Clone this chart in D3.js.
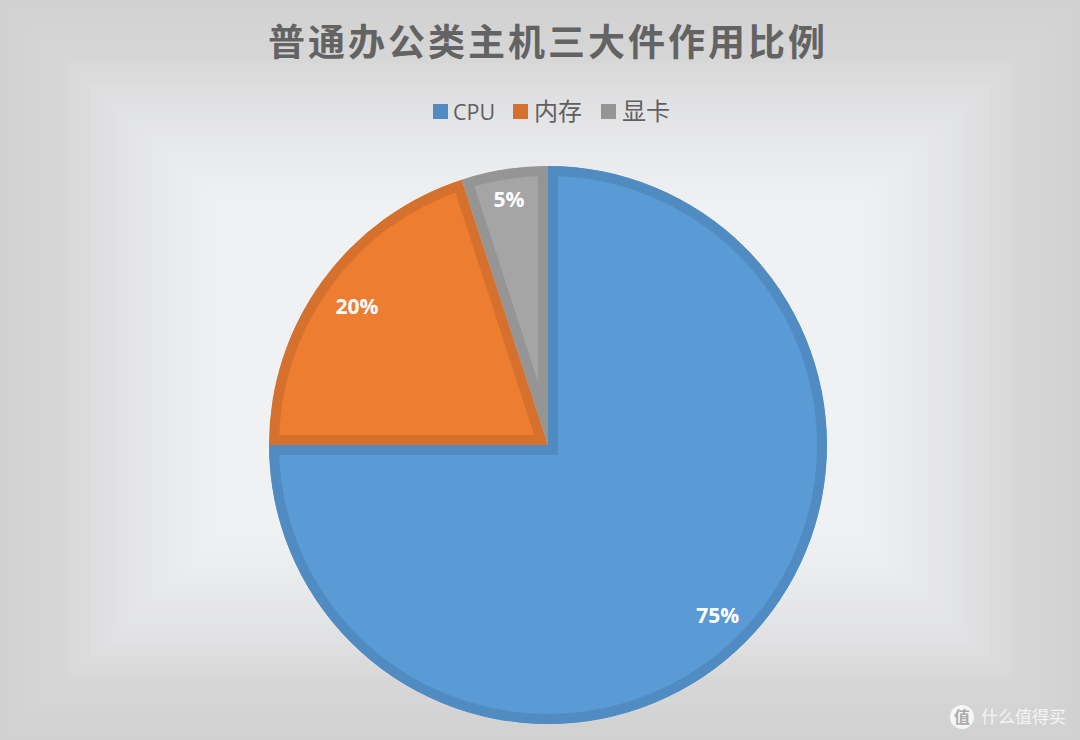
<!DOCTYPE html>
<html><head><meta charset="utf-8">
<script src="https://cdn.jsdelivr.net/npm/d3@7/dist/d3.min.js"></script>
<style>html,body{margin:0;padding:0;background:#fff}svg{display:block}</style></head>
<body><svg id="c" width="1080" height="740"></svg>
<script>
const categories = ["CPU","内存","显卡"];
const values = [75,20,5];
const labels = ["75%","20%","5%"];
const fills = ["#5b9bd5","#ed7d31","#a5a5a5"];
const borders = ["#508cc1","#d5712c","#959595"];
const legendSwatch = ["#508cc1","#d5712c","#959595"];
const titleText = "普通办公类主机三大件作用比例";
const markText = "什么值得买";
const W=1080,H=740,cx=548,cy=445,R=279,bw=10;
const cjk='"Noto Sans CJK SC","Noto Sans",sans-serif';
const svg=d3.select("#c");
const defs=svg.append("defs");
const col=d3.scaleLinear().domain([0,0.25,0.45,0.7,0.95,1]).range(["#d1d1d1","#d6d6d6","#e0e0e2","#e8e9eb","#eef0f2","#f0f1f3"]);
const steps=d3.range(0,41).map(d=>d/40);
svg.append("g").selectAll("rect").data(steps).join("rect")
 .attr("x",d=>d*225).attr("y",d=>d*210)
 .attr("width",d=>W-2*d*225).attr("height",d=>H-2*d*210)
 .attr("fill",d=>col(d));
svg.append("text").attr("x",548).attr("y",56).attr("text-anchor","middle")
 .attr("font-family",cjk).attr("font-weight",700).attr("font-size",37).attr("letter-spacing",3)
 .attr("fill","#636363").text(titleText);
const pie=d3.pie().sort(null).value(d=>d)(values);
const arc=d3.arc().innerRadius(0).outerRadius(R);
const g=svg.append("g").attr("transform",`translate(${cx},${cy})`);
pie.forEach((p,i)=>{
 defs.append("clipPath").attr("id","s"+i).append("path").attr("d",arc(p));
});
g.selectAll("path").data(pie).join("path").attr("d",arc)
 .attr("fill",(d,i)=>fills[i]).attr("stroke",(d,i)=>borders[i]).attr("stroke-width",bw*2)
 .attr("stroke-linejoin","miter").attr("clip-path",(d,i)=>`url(#s${i})`);
const lr=d3.scaleOrdinal().domain(categories).range([240,236,249]);
g.selectAll("text").data(pie).join("text")
 .attr("transform",(d,i)=>{const a=(d.startAngle+d.endAngle)/2,r=lr(categories[i]);return `translate(${Math.sin(a)*r},${-Math.cos(a)*r+8})`})
 .attr("text-anchor","middle").attr("font-family",'"Open Sans",sans-serif').attr("font-weight",700).attr("font-size",21)
 .attr("fill","#fff").text((d,i)=>labels[i]);
const lx=[433,513,601],tx=[453,534,622];
const leg=svg.append("g");
leg.selectAll("rect").data(categories).join("rect").attr("x",(d,i)=>lx[i]).attr("y",104).attr("width",15).attr("height",15).attr("fill",(d,i)=>legendSwatch[i]);
leg.selectAll("text").data(categories).join("text").attr("x",(d,i)=>tx[i]).attr("y",120)
 .attr("font-family",`"Open Sans",${cjk}`).attr("font-size",(d,i)=>i?24:21.5).attr("fill","#606060").text(d=>d);
const m=svg.append("g");
m.append("circle").attr("cx",962).attr("cy",717).attr("r",12).attr("fill","#f6f6f6");
m.append("text").attr("x",962).attr("y",723).attr("text-anchor","middle").attr("font-family",cjk).attr("font-size",16).attr("font-weight",700).attr("fill","#aaa").text("值");
m.append("text").attr("x",981).attr("y",723).attr("font-family",cjk).attr("font-size",17).attr("fill","#f4f4f4").text(markText);
</script></body></html>
